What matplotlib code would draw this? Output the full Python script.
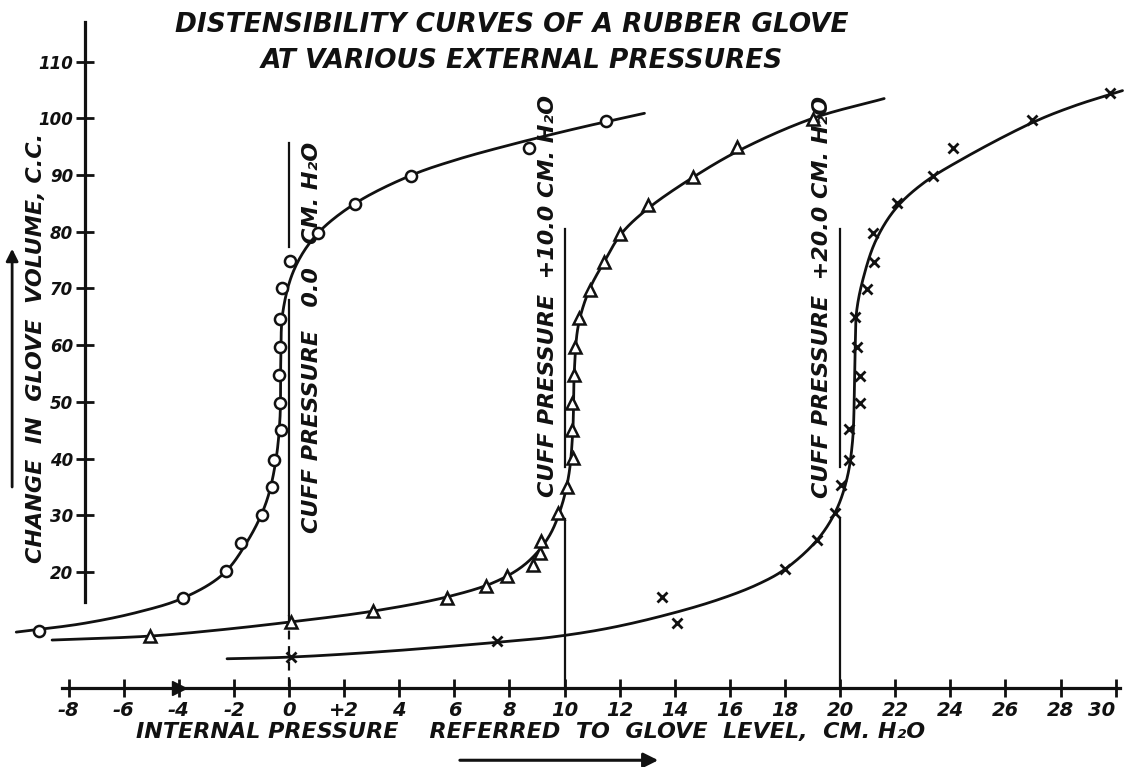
import matplotlib.pyplot as plt
import numpy as np

# values (internal pressure cm H2O, volume change c.c.)
# open circles -> cuff pressure 0.0
circ_p = [-9.07, -3.85, -2.29, -1.74, -0.98, -0.62, -0.54, -0.29, -0.33, -0.36,
          -0.33, -0.33, -0.25, 0.04, 1.05, 2.4, 4.43, 8.71, 11.5]
circ_v = [9.6, 15.4, 20.2, 25.1, 30.0, 35.0, 39.7, 45.0, 49.8, 54.8,
          59.7, 64.6, 70.0, 74.9, 79.8, 84.9, 89.8, 94.8, 99.5]
# triangles -> cuff pressure +10.0
tri_p = [-5.05, 0.07, 3.05, 5.73, 7.15, 7.91, 8.86, 9.11, 9.15, 9.76, 10.09, 10.31,
         10.27, 10.27, 10.34, 10.38, 10.53, 10.93, 11.43, 12.01, 13.03, 14.66, 16.26, 19.02]
tri_v = [8.7, 11.2, 13.1, 15.4, 17.5, 19.3, 21.2, 23.4, 25.4, 30.4, 35.0, 40.1,
         45.0, 49.8, 54.8, 59.7, 64.8, 69.8, 74.7, 79.6, 84.7, 89.7, 95.0, 99.9]
# crosses -> cuff pressure +20.0
crs_p = [0.07, 7.55, 13.54, 14.08, 18.0, 19.16, 19.82, 20.04, 20.33, 20.33, 20.73,
         20.73, 20.62, 20.54, 20.98, 21.23, 21.2, 22.07, 23.38, 24.1, 26.97, 29.8]
crs_v = [5.0, 7.8, 15.6, 11.0, 20.5, 25.6, 30.4, 35.4, 39.8, 45.2, 49.8,
         54.6, 59.7, 65.0, 69.9, 74.7, 79.8, 85.1, 89.9, 94.8, 99.7, 104.5]

# hand-drawn fitted curves
fit0_p = [-9.9, -7.5, -5.5, -3.85, -2.4, -1.5, -0.85, -0.5, -0.33, -0.3, -0.22,
          0.2, 1.0, 2.4, 4.4, 6.0, 8.0, 10.5, 12.9]
fit0_v = [9.4, 10.9, 12.9, 15.4, 19.6, 25.5, 32, 39, 47, 57, 66,
          73.5, 79.5, 85, 89.9, 92.6, 95.3, 98.3, 100.9]
fit1_p = [-8.6, -5.05, -2.5, 0.07, 3.05, 5.73, 7.5, 8.6, 9.4, 9.85, 10.15, 10.3,
          10.35, 10.5, 10.9, 11.45, 12.05, 13.0, 14.66, 16.4, 19.0, 21.6]
fit1_v = [8.0, 8.7, 9.8, 11.2, 13.1, 15.6, 18.3, 21.5, 26.0, 31, 37, 45,
          55, 63.5, 69.8, 74.8, 79.6, 84.0, 89.6, 94.5, 100.0, 103.5]
fit2_p = [-2.25, 0.07, 3.5, 7.55, 9.5, 11.5, 13.5, 15.5, 17.0, 18.0, 19.16, 19.85,
          20.25, 20.45, 20.52, 20.55, 20.6, 20.85, 21.3, 22.0, 23.0, 24.5, 27.0, 28.5, 30.25]
fit2_v = [4.7, 5.0, 6.0, 7.6, 8.5, 10.0, 12.2, 15.0, 17.8, 20.5, 25.6, 30.8,
          36.5, 43, 52, 60, 66, 72, 78.5, 84.0, 88.5, 93.0, 99.3, 102.2, 104.9]

cuff = [0.0, 10.0, 20.0]
cuff_text = ["CUFF PRESSURE   0.0   CM. H\u2082O",
             "CUFF PRESSURE  +10.0 CM. H\u2082O",
             "CUFF PRESSURE  +20.0 CM. H\u2082O"]

yticks = list(range(20, 111, 10))
xticks = list(range(-8, 31, 2))
xlabels = [("+2" if t == 2 else str(t)) for t in xticks]

SX, SY = 27.55, 5.67  # px per unit, used only to smooth curves evenly


def smooth(xs, ys, n=20):
    # centripetal catmull-rom through the hand-read curve points
    P = np.column_stack([np.asarray(xs) * SX, np.asarray(ys) * SY])
    P = np.vstack([2 * P[0] - P[1], P, 2 * P[-1] - P[-2]])
    out = []
    for i in range(1, len(P) - 2):
        p0, p1, p2, p3 = P[i - 1], P[i], P[i + 1], P[i + 2]
        t0 = 0.0
        t1 = t0 + np.linalg.norm(p1 - p0) ** 0.5
        t2 = t1 + np.linalg.norm(p2 - p1) ** 0.5
        t3 = t2 + np.linalg.norm(p3 - p2) ** 0.5
        t = np.linspace(t1, t2, n)[:, None]
        a1 = (t1 - t) / (t1 - t0) * p0 + (t - t0) / (t1 - t0) * p1
        a2 = (t2 - t) / (t2 - t1) * p1 + (t - t1) / (t2 - t1) * p2
        a3 = (t3 - t) / (t3 - t2) * p2 + (t - t2) / (t3 - t2) * p3
        b1 = (t2 - t) / (t2 - t0) * a1 + (t - t0) / (t2 - t0) * a2
        b2 = (t3 - t) / (t3 - t1) * a2 + (t - t1) / (t3 - t1) * a3
        c = (t2 - t) / (t2 - t1) * b1 + (t - t1) / (t2 - t1) * b2
        out.append(c)
    out = np.vstack(out)
    return out[:, 0] / SX, out[:, 1] / SY


HAND = dict(family='DejaVu Sans', style='italic', weight='bold')
INK = '#111111'

fig = plt.figure(figsize=(11.25, 7.67), dpi=100)
ax = fig.add_axes([0, 0, 1, 1])
ax.set_xlim(-10.49, 30.34)
ax.set_ylim(-14.39, 120.88)

for s in ['top', 'right']:
    ax.spines[s].set_visible(False)
ax.spines['left'].set_position(('data', -7.4))
ax.spines['left'].set_bounds(14.7, 117)
ax.spines['bottom'].set_position(('data', -0.5))
ax.spines['bottom'].set_bounds(-8.24, 30.16)
for s in ['left', 'bottom']:
    ax.spines[s].set_linewidth(2.3)
    ax.spines[s].set_color(INK)

ax.set_yticks(yticks)
ax.set_yticklabels([str(t) for t in yticks], fontdict=dict(HAND, size=12))
ax.set_xticks(xticks)
ax.set_xticklabels(xlabels, fontdict=dict(HAND, size=14))
ax.get_xticklabels()[-1].set_ha('right')
ax.tick_params(direction='inout', length=13, width=2, color=INK, labelcolor=INK)
ax.tick_params(axis='y', pad=2)
ax.tick_params(axis='x', pad=3)

# arrowhead on the x axis at -4
ax.plot([-4], [-0.5], marker='>', ms=10, color=INK, clip_on=False, zorder=5)

# fitted curves
for fp, fv in [(fit0_p, fit0_v), (fit1_p, fit1_v), (fit2_p, fit2_v)]:
    sx, sy = smooth(fp, fv)
    ax.plot(sx, sy, color=INK, lw=2.0, solid_capstyle='round', zorder=3)

# observations
ax.plot(circ_p, circ_v, 'o', ms=8, mfc='white', mec=INK, mew=1.8, zorder=4)
ax.plot(tri_p, tri_v, '^', ms=8, mfc='white', mec=INK, mew=1.8, zorder=4)
ax.plot(crs_p, crs_v, 'x', ms=7.5, mec=INK, mew=2.0, zorder=4)

# cuff pressure reference lines
ax.plot([cuff[0]] * 2, [95.7, 77.4], color=INK, lw=1.6)
ax.plot([cuff[0]] * 2, [68.0, 12.5], color=INK, lw=1.6)
ax.plot([cuff[0]] * 2, [12.5, -0.5], color=INK, lw=1.6, ls=(0, (4, 3)))
for c in cuff[1:]:
    ax.plot([c] * 2, [80.5, 38.5], color=INK, lw=1.6)
    ax.plot([c] * 2, [29.3, -0.5], color=INK, lw=1.6)

# rotated cuff labels
ax.text(0.85, 61.4, cuff_text[0], rotation=90, ha='center', va='center', color=INK,
        fontdict=dict(HAND, size=16))
ax.text(9.4, 68.7, cuff_text[1], rotation=90, ha='center', va='center', color=INK,
        fontdict=dict(HAND, size=16))
ax.text(19.35, 68.5, cuff_text[2], rotation=90, ha='center', va='center', color=INK,
        fontdict=dict(HAND, size=16))

# title
ax.text(8.1, 116.4, "DISTENSIBILITY CURVES OF A RUBBER GLOVE", ha='center', va='center',
        color=INK, fontdict=dict(HAND, size=19))
ax.text(8.46, 110.2, "AT VARIOUS EXTERNAL PRESSURES", ha='center', va='center',
        color=INK, fontdict=dict(HAND, size=19))

# axis titles
ax.text(8.75, -8.2, "INTERNAL PRESSURE    REFERRED  TO  GLOVE  LEVEL,  CM. H\u2082O",
        ha='center', va='center', color=INK, fontdict=dict(HAND, size=16))
ax.text(-9.2, 59.6, "CHANGE  IN  GLOVE  VOLUME, C.C.", rotation=90, ha='center',
        va='center', color=INK, fontdict=dict(HAND, size=16))

# direction arrows
ax.annotate('', xy=(13.5, -13.2), xytext=(6.1, -13.2),
            arrowprops=dict(arrowstyle='-|>', lw=2.2, color=INK, mutation_scale=22))
ax.annotate('', xy=(-10.05, 77.5), xytext=(-10.05, 34.5),
            arrowprops=dict(arrowstyle='-|>', lw=2.0, color=INK, mutation_scale=18))

fig.savefig('out.png', dpi=100, facecolor='white')
